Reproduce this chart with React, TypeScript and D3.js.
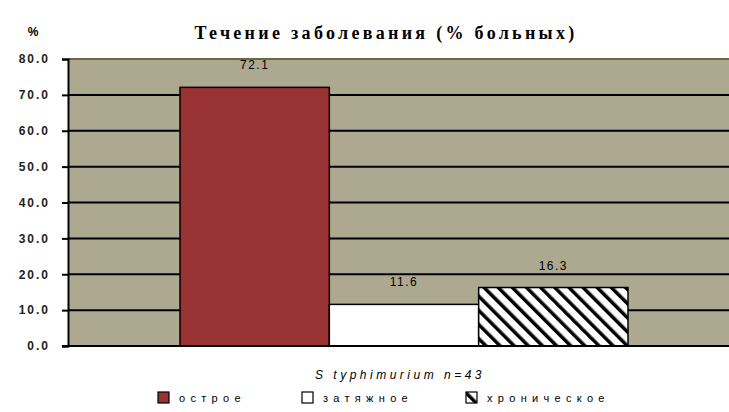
import * as d3 from "d3";
import { useEffect, useRef } from "react";

const categories = ["S. typhimurium n=43"];
const seriesNames = ["острое", "затяжное", "хроническое"];
const seriesValues = [72.1, 11.6, 16.3];
const yTicks = [0, 10, 20, 30, 40, 50, 60, 70, 80];

const W = 729;
const H = 412;
const margin = { top: 59, right: -11, bottom: 66, left: 68 };

export default function App() {
  const svgRef = useRef<SVGSVGElement | null>(null);

  useEffect(() => {
    if (!svgRef.current) return;
    const svg = d3.select(svgRef.current);
    svg.selectAll("*").remove();

    const plotW = W - margin.left - margin.right;
    const plotH = H - margin.top - margin.bottom;

    const x0 = d3.scaleBand<string>()
      .domain(categories)
      .range([margin.left, margin.left + plotW])
      .paddingOuter(0.25)
      .paddingInner(0);
    const x1 = d3.scaleBand<string>()
      .domain(seriesNames)
      .range([0, x0.bandwidth()])
      .padding(0);
    const y = d3.scaleLinear().domain([0, 80]).range([margin.top + plotH, margin.top]);

    const defs = svg.append("defs");
    const pat = defs.append("pattern")
      .attr("id", "hatch")
      .attr("patternUnits", "userSpaceOnUse")
      .attr("width", 10)
      .attr("height", 10)
      .attr("patternTransform", "rotate(-45)");
    pat.append("rect").attr("width", 10).attr("height", 10).attr("fill", "#fff");
    pat.append("rect").attr("x", 0).attr("y", 0).attr("width", 3.5).attr("height", 10).attr("fill", "#000");

    const fills = ["#993333", "#ffffff", "url(#hatch)"];

    // plot background
    svg.append("rect")
      .attr("x", margin.left)
      .attr("y", margin.top)
      .attr("width", plotW)
      .attr("height", plotH)
      .attr("fill", "#ada890");

    svg.append("line")
      .attr("x1", margin.left).attr("x2", margin.left + plotW)
      .attr("y1", y(80)).attr("y2", y(80))
      .attr("stroke", "#6b6a3c").attr("stroke-width", 2);

    // gridlines
    svg.append("g")
      .selectAll("line")
      .data(yTicks.filter(t => t > 0 && t < 80))
      .enter().append("line")
      .attr("x1", margin.left).attr("x2", margin.left + plotW)
      .attr("y1", d => y(d)).attr("y2", d => y(d))
      .attr("stroke", "#000").attr("stroke-width", 2);

    // bars
    const g = svg.append("g").attr("transform", `translate(${x0(categories[0])},0)`);
    g.selectAll("rect")
      .data(seriesValues)
      .enter().append("rect")
      .attr("x", (_, i) => x1(seriesNames[i])!)
      .attr("y", d => y(d))
      .attr("width", x1.bandwidth())
      .attr("height", d => y(0) - y(d))
      .attr("fill", (_, i) => fills[i])
      .attr("stroke", "#000")
      .attr("stroke-width", 1.5);

    g.selectAll("text")
      .data(seriesValues)
      .enter().append("text")
      .attr("x", (_, i) => x1(seriesNames[i])! + x1.bandwidth() / 2)
      .attr("y", d => y(d) - 18)
      .attr("text-anchor", "middle")
      .attr("font-family", "Liberation Sans, Arial, sans-serif")
      .attr("font-size", 12)
      .attr("letter-spacing", 1.5)
      .attr("fill", "#000")
      .text(d => d.toFixed(1));

    // y axis
    const yAxis = svg.append("g")
      .attr("transform", `translate(${margin.left},0)`)
      .call(d3.axisLeft(y).tickValues(yTicks).tickSize(6).tickPadding(12).tickFormat(d3.format(".1f")));
    yAxis.select(".domain").attr("stroke", "#000").attr("stroke-width", 2);
    yAxis.selectAll(".tick line").attr("stroke", "#000").attr("stroke-width", 2);
    yAxis.selectAll(".tick text")
      .attr("font-family", "Liberation Sans, Arial, sans-serif")
      .attr("font-size", 12)
      .attr("font-weight", "bold")
      .attr("letter-spacing", 2)
      .attr("fill", "#222");

    // x axis baseline
    svg.append("line")
      .attr("x1", margin.left - 6).attr("x2", margin.left + plotW)
      .attr("y1", y(0)).attr("y2", y(0))
      .attr("stroke", "#000").attr("stroke-width", 2);

    // titles
    svg.append("text")
      .attr("x", 386).attr("y", 39)
      .attr("text-anchor", "middle")
      .attr("font-family", "Liberation Serif, serif")
      .attr("font-weight", "bold")
      .attr("font-size", 18)
      .attr("letter-spacing", 3.3)
      .text("Течение заболевания (% больных)");
    svg.append("text")
      .attr("x", 33).attr("y", 36)
      .attr("text-anchor", "middle")
      .attr("font-family", "Liberation Sans, Arial, sans-serif")
      .attr("font-weight", "bold")
      .attr("font-size", 12)
      .text("%");

    svg.append("text")
      .attr("x", x0(categories[0])! + x0.bandwidth() / 2 - 4)
      .attr("y", 379)
      .attr("text-anchor", "middle")
      .attr("font-family", "Liberation Sans, Arial, sans-serif")
      .attr("font-style", "italic")
      .attr("font-size", 12)
      .attr("letter-spacing", 3.5)
      .text(categories[0].replace(".", ""));

    // legend
    const legendX = [158, 302, 466];
    const lg = svg.append("g");
    seriesNames.forEach((name, i) => {
      lg.append("rect")
        .attr("x", legendX[i]).attr("y", 392)
        .attr("width", 11).attr("height", 11)
        .attr("fill", fills[i])
        .attr("stroke", "#000").attr("stroke-width", 1.2);
      lg.append("text")
        .attr("x", legendX[i] + 21).attr("y", 402)
        .attr("font-family", "Liberation Sans, Arial, sans-serif")
        .attr("font-size", 11)
        .attr("letter-spacing", 5.3)
        .text(name);
    });
  }, []);

  return (
    <svg
      ref={svgRef}
      width={W}
      height={H}
      style={{ position: "absolute", left: 0, top: 0, background: "#fff" }}
    />
  );
}
